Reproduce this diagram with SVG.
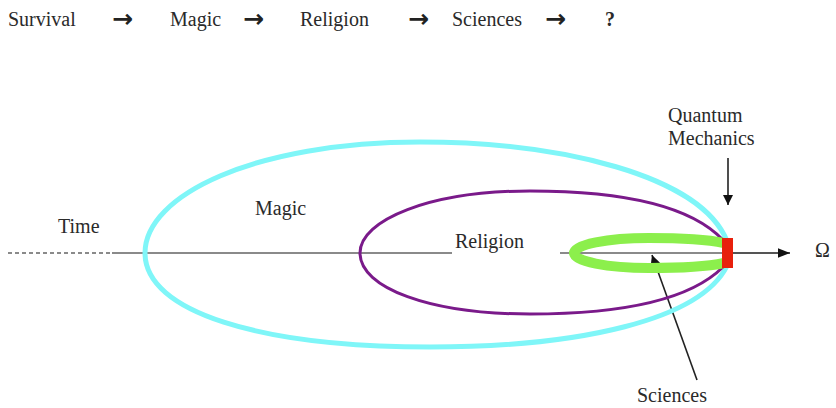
<svg xmlns="http://www.w3.org/2000/svg" width="836" height="408" viewBox="0 0 836 408">
<defs>
<style>
text{font-family:"Liberation Serif","Times New Roman",serif;font-size:20px;fill:#2a2a2a}
.arr{font-family:"DejaVu Sans",sans-serif;font-weight:bold;font-size:25px;fill:#222}
.axis{stroke:#8a8a8a;stroke-width:2.2;fill:none}
.ptr{stroke:#222;stroke-width:1.6;fill:none}
</style>
<marker id="ah" viewBox="0 0 10 10" refX="10" refY="5" markerWidth="10" markerHeight="10" markerUnits="userSpaceOnUse" orient="auto">
<path d="M0,0 L10,5 L0,10 Z" fill="#111"/>
</marker>
<marker id="ah2" viewBox="0 0 10 10" refX="10" refY="5" markerWidth="12" markerHeight="12" markerUnits="userSpaceOnUse" orient="auto">
<path d="M0,1 L10,5 L0,9 Z" fill="#111"/>
</marker>
</defs>
<g id="sequence">
<text x="8" y="26">Survival</text>
<text class="arr" x="112" y="27">→</text>
<text x="170" y="26">Magic</text>
<text class="arr" x="243" y="27">→</text>
<text x="300" y="26">Religion</text>
<text class="arr" x="408" y="27">→</text>
<text x="452" y="26">Sciences</text>
<text class="arr" x="545" y="27">→</text>
<text x="605" y="26" font-weight="bold">?</text>
</g>
<g id="connectors">
<line class="axis" x1="8" y1="253" x2="112" y2="253" stroke-dasharray="4 3"/>
<line class="axis" x1="112" y1="253" x2="452" y2="253"/>
<line class="axis" x1="560" y1="253" x2="725" y2="253"/>
<line stroke="#555" stroke-width="2" x1="725" y1="253" x2="790" y2="253" marker-end="url(#ah2)"/>
<line class="ptr" x1="728" y1="158" x2="728" y2="205" marker-end="url(#ah)"/>
<line class="ptr" x1="697" y1="380" x2="652" y2="255" marker-end="url(#ah)"/>
</g>
<g id="magic">
<path d="M727 241 C700 175 560 142 420 142 C255 142 145 195 145 253 C145 312 260 347 430 347 C580 347 700 320 727 266" fill="none" stroke="#7ff6f8" stroke-width="5"/>
<text x="255" y="215">Magic</text>
</g>
<g id="religion">
<path d="M723 240 C690 205 620 191 530 191 C430 191 360 220 360 253 C360 288 430 314 530 314 C620 314 690 300 723 267" fill="none" stroke="#7a1a8a" stroke-width="3"/>
<text x="455" y="248">Religion</text>
</g>
<g id="sciences">
<path d="M724 243 C705 239 680 238 649 238 C607 238 574 244.7 574 253 C574 261.3 607 268 649 268 C680 268 705 267 724 263" fill="none" stroke="#8cef4c" stroke-width="10"/>
<text x="637" y="402">Sciences</text>
</g>
<g id="time">
<text x="58" y="233">Time</text>
</g>
<g id="quantum">
<rect x="722" y="238" width="11" height="30" fill="#e8200c"/>
<text x="668" y="122">Quantum</text>
<text x="668" y="145">Mechanics</text>
</g>
<g id="omega">
<text x="815" y="257" font-size="24">Ω</text>
</g>
</svg>
